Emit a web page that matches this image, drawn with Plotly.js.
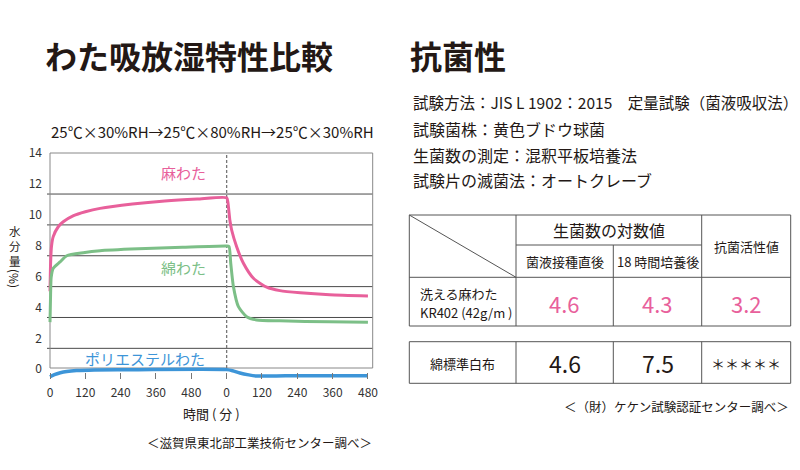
<!DOCTYPE html>
<html>
<head>
<meta charset="utf-8">
<script src="https://cdn.plot.ly/plotly-3.0.1.min.js"></script>
<style>html,body{margin:0;padding:0;background:#fff;}#chart{width:800px;height:470px;}</style>
</head>
<body>
<div id="chart"></div>
<script>
// ---------------- data ----------------
const xTickVals = [0, 120, 240, 360, 480, 600, 720, 840, 960, 1080];
const xTickText = ['0', '120', '240', '360', '480', '0', '120', '240', '360', '480'];
const yTickVals = [0, 2, 4, 6, 8, 10, 12, 14];
const gridVals = [2, 4, 6, 8, 10, 12];
const phaseSwitch = 600;

const hempName = '麻わた';
const hempT = [0, 2, 5, 11, 28, 45, 80, 120, 170, 280, 390, 500, 600, 604, 611, 617, 634, 657, 691, 736, 781, 850, 950, 1080];
const hempV = [5.7, 7.5, 8.6, 9.24, 9.88, 10.2, 10.6, 10.85, 11.07, 11.35, 11.55, 11.68, 11.76, 11.5, 10.3, 9.67, 8.59, 7.51, 6.54, 5.96, 5.74, 5.6, 5.47, 5.39];

const cottonName = '綿わた';
const cottonT = [0, 2, 4, 11, 34, 57, 113, 170, 300, 450, 600, 608, 614, 623, 640, 668, 702, 781, 950, 1080];
const cottonV = [3.7, 5.5, 6.6, 7.19, 7.6, 8.0, 8.2, 8.33, 8.45, 8.55, 8.63, 8.6, 7.5, 6.0, 4.7, 4.05, 3.84, 3.78, 3.72, 3.69];

const polyName = 'ポリエステルわた';
const polyT = [0, 15, 35, 57, 90, 150, 300, 600, 620, 645, 675, 702, 800, 1080];
const polyV = [0.16, 0.3, 0.42, 0.5, 0.56, 0.6, 0.62, 0.62, 0.55, 0.4, 0.28, 0.21, 0.22, 0.23];

const chartTitle = 'わた吸放湿特性比較';
const chartSubtitle = '25℃×30%RH→25℃×80%RH→25℃×30%RH';
const yTitleChars = ['水', '分', '量'];
const yTitleUnit = '(%)';
const xTitle = '時間 ( 分 )';
const chartSource = '＜滋賀県東北部工業技術センター調べ＞';

const abTitle = '抗菌性';
const abLines = [
  '試験方法：JIS L 1902：2015　定量試験（菌液吸収法）',
  '試験菌株：黄色ブドウ球菌',
  '生菌数の測定：混釈平板培養法',
  '試験片の滅菌法：オートクレーブ'
];
const tblHeadGroup = '生菌数の対数値';
const tblHeadCols = ['菌液接種直後', '18 時間培養後', '抗菌活性値'];
const sampleLabel = ['洗える麻わた', 'KR402 (42g/m )'];
const sampleValues = ['4.6', '4.3', '3.2'];
const controlLabel = '綿標準白布';
const controlValues = ['4.6', '7.5', '＊＊＊＊＊'];
const tblSource = '＜（財）ケケン試験認証センター調べ＞';

// ---------------- styles / geometry ----------------
const W = 800, H = 470;
const PX = x => x / W;
const PY = y => 1 - y / H;
const FONT = '"Noto Sans CJK JP", "Noto Sans", sans-serif';
const PINK = '#e8609b', GREEN = '#7cbf87', BLUE = '#3d95d8';
const TXT = '#231815';

// axis pixel calibration
const xPix0 = 50, xPxPerMin = 0.2944;
const yPix0 = 379.2, yPxPerUnit = 15.43;
const plotL = 40, plotR = 376, plotT = 150, plotB = 386;
const frameL = 50, frameR = 372.7, frameT = 153, frameB = 368;
const tx = p => (p - xPix0) / xPxPerMin;
const vy = p => (yPix0 - p) / yPxPerUnit;

const traces = [
  {x: hempT, y: hempV, name: hempName, mode: 'lines', line: {color: PINK, width: 3, shape: 'spline', smoothing: 0.6}},
  {x: cottonT, y: cottonV, name: cottonName, mode: 'lines', line: {color: GREEN, width: 3, shape: 'spline', smoothing: 0.6}},
  {x: polyT, y: polyV, name: polyName, mode: 'lines', line: {color: BLUE, width: 3.5, shape: 'spline', smoothing: 0.6}}
];

const shapes = [];
// grid lines
gridVals.forEach(g => shapes.push({type: 'line', xref: 'x', yref: 'y', layer: 'below',
  x0: tx(47), x1: tx(frameR), y0: g, y1: g, line: {color: '#4a4a4a', width: 1}}));
// frame
shapes.push({type: 'rect', xref: 'x', yref: 'y', layer: 'below',
  x0: tx(frameL), x1: tx(frameR), y0: vy(frameB), y1: vy(frameT), line: {color: '#888', width: 1}});
// phase divider
shapes.push({type: 'line', xref: 'x', yref: 'y', layer: 'below',
  x0: phaseSwitch, x1: phaseSwitch, y0: vy(frameB), y1: vy(frameT), line: {color: '#777', width: 1.3, dash: '3px,2px'}});

// table lines
const colX = [409.3, 516, 613.3, 701.7, 790.7];
const t1 = {top: 215, mid: 245, head: 277.3, bot: 326};
const t2 = {top: 341.7, bot: 383.3};
const TL = {color: '#555', width: 1};
function pline(x0, y0, x1, y1) {
  shapes.push({type: 'line', xref: 'paper', yref: 'paper', x0: PX(x0), y0: PY(y0), x1: PX(x1), y1: PY(y1), line: TL});
}
function prect(x0, y0, x1, y1) {
  shapes.push({type: 'rect', xref: 'paper', yref: 'paper', x0: PX(x0), y0: PY(y0), x1: PX(x1), y1: PY(y1), line: TL});
}
prect(colX[0], t1.top, colX[4], t1.bot);
pline(colX[0], t1.head, colX[4], t1.head);
pline(colX[1], t1.mid, colX[3], t1.mid);
[1, 3].forEach(i => pline(colX[i], t1.top, colX[i], t1.bot));
pline(colX[2], t1.mid, colX[2], t1.bot);
pline(colX[0], t1.top, colX[1], t1.head);
prect(colX[0], t2.top, colX[4], t2.bot);
[1, 2, 3].forEach(i => pline(colX[i], t2.top, colX[i], t2.bot));

// annotations
const annotations = [];
function ann(text, x, y, size, color, xanchor, extra) {
  annotations.push(Object.assign({text: text, xref: 'paper', yref: 'paper', x: PX(x), y: PY(y),
    xanchor: xanchor || 'center', yanchor: 'middle', showarrow: false, borderpad: 0,
    font: {family: FONT, size: size, color: color || TXT}}, extra || {}));
}
ann('<b>' + chartTitle + '</b>', 44, 55, 32, TXT, 'left');
ann('<b>' + abTitle + '</b>', 409, 55, 32, TXT, 'left');
ann(chartSubtitle, 212.5, 132, 15, TXT, 'center');
ann(hempName, 183, 172, 15, PINK);
ann(cottonName, 183, 267, 15, GREEN);
ann(polyName, 145, 358, 15, BLUE);
ann(yTitleChars.join('<br>'), 15, 246, 11.5, TXT, 'center');
ann(yTitleUnit, 15, 278, 12, TXT, 'center', {textangle: 90});
ann(xTitle, 211, 413, 13, TXT);
ann(chartSource, 373, 442, 12.5, TXT, 'right');

const lineY = [102, 129, 155, 180];
const lineSize = [15.5, 16, 16, 16];
abLines.forEach((l, i) => ann(l, 412, lineY[i], lineSize[i], TXT, 'left'));
const cc = i => (colX[i] + colX[i + 1]) / 2;
ann(tblHeadGroup, (colX[1] + colX[3]) / 2, (t1.top + t1.mid) / 2, 16);
ann(tblHeadCols[0], cc(1), (t1.mid + t1.head) / 2, 13);
ann(tblHeadCols[1], cc(2), (t1.mid + t1.head) / 2, 13);
ann(tblHeadCols[2], cc(3), (t1.top + t1.head) / 2, 13);
ann(sampleLabel[0], 419, 293, 13, TXT, 'left');
ann(sampleLabel[1], 419, 312, 13, TXT, 'left');
sampleValues.forEach((v, i) => ann(v, cc(i + 1), 303, 22, PINK));
ann(controlLabel, cc(0), 363, 13);
controlValues.forEach((v, i) => ann(v, cc(i + 1), 363, i < 2 ? 23 : 14));
ann(tblSource, 790, 406, 12.5, TXT, 'right');

const layout = {
  width: W, height: H,
  margin: {l: 0, r: 0, t: 0, b: 0},
  paper_bgcolor: '#fff', plot_bgcolor: 'rgba(0,0,0,0)',
  showlegend: false,
  font: {family: FONT, color: TXT},
  xaxis: {
    domain: [PX(plotL), PX(plotR)], range: [tx(plotL), tx(plotR)],
    anchor: 'free', position: PY(372),
    tickvals: xTickVals, ticktext: xTickText,
    ticks: 'outside', ticklen: 6, tickcolor: '#777', tickwidth: 1, ticklabelstandoff: 4,
    showgrid: false, zeroline: false, showline: false, automargin: false,
    tickfont: {family: FONT, size: 12, color: '#333'}, fixedrange: true
  },
  yaxis: {
    domain: [PY(plotB), PY(plotT)], range: [vy(plotB), vy(plotT)],
    anchor: 'free', position: PX(frameL),
    tickvals: yTickVals, ticks: '', ticklabelshift: -10, ticklabelstandoff: 8,
    showgrid: false, zeroline: false, showline: false, automargin: false,
    tickfont: {family: FONT, size: 12, color: '#333'}, fixedrange: true
  },
  shapes: shapes,
  annotations: annotations
};

Plotly.newPlot('chart', traces, layout, {staticPlot: true, displayModeBar: false});
</script>
</body>
</html>
